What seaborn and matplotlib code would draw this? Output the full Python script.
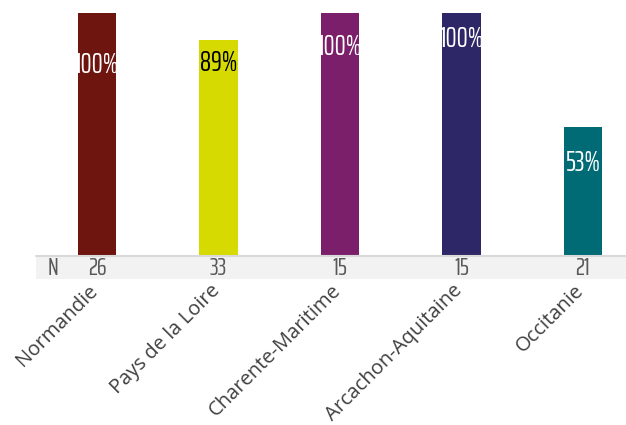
import matplotlib
matplotlib.use("Agg")
import matplotlib.pyplot as plt
import seaborn as sns
import pandas as pd
from matplotlib.patches import Rectangle
from matplotlib import font_manager

regions = ["Normandie", "Pays de la Loire", "Charente-Maritime", "Arcachon-Aquitaine", "Occitanie"]
values = [1.00, 0.89, 1.00, 1.00, 0.53]
pct_labels = ["100%", "89%", "100%", "100%", "53%"]
n_values = [26, 33, 15, 15, 21]
colors = ["#6E1510", "#D6DA00", "#7B1F6B", "#2E2767", "#006A75"]
label_colors = ["white", "black", "white", "white", "white"]
label_heights = [0.786, 0.794, 0.86, 0.893, 0.383]

names = {f.name for f in font_manager.fontManager.ttflist}
narrow = "Saira ExtraCondensed" if "Saira ExtraCondensed" in names else "DejaVu Sans"

sns.set_theme(style="white")
plt.rcParams["font.family"] = ["Open Sans", "DejaVu Sans"]

df = pd.DataFrame({"region": regions, "value": values})

fig = plt.figure(figsize=(6.26, 4.25), dpi=100)
ax = fig.add_axes([36 / 626, (425 - 256) / 425, 590 / 626, 243 / 425])
sns.barplot(data=df, x="region", y="value", hue="region", palette=colors,
            width=0.32, legend=False, ax=ax, saturation=1, linewidth=0)
ax.set_xlim(-0.502, 4.354)
ax.set_ylim(0, 1)
for s in ax.spines.values():
    s.set_visible(False)
ax.set_yticks([])
ax.set_xticks([])
ax.set_xlabel("")
ax.set_ylabel("")

# grey N band
band_h = 23 / 243
ax.add_patch(Rectangle((0, -band_h), 1, band_h, transform=ax.transAxes,
                       facecolor="#F2F2F2", edgecolor="none", clip_on=False, zorder=0))
ax.plot([0, 1], [0, 0], transform=ax.transAxes, color="#D9D9D9", lw=1.5,
        clip_on=False, zorder=1)

trans = ax.get_xaxis_transform()
ax.text(-0.36, -0.05, "N", transform=trans, ha="center", va="center",
        fontsize=18, color="#595959", family=narrow)
for i, n in enumerate(n_values):
    ax.text(i, -0.05, str(n), transform=trans, ha="center", va="center",
            fontsize=18, color="#595959", family=narrow)

for i, (lab, c, h) in enumerate(zip(pct_labels, label_colors, label_heights)):
    ax.text(i, h, lab, ha="center", va="center", fontsize=20, color=c, family=narrow)

for i, r in enumerate(regions):
    ax.text(i - 0.015, -32 / 243, r, transform=trans, rotation=45, ha="right",
            va="center", rotation_mode="anchor", fontsize=14.5, color="#404040")

fig.savefig("out.png", dpi=100)
